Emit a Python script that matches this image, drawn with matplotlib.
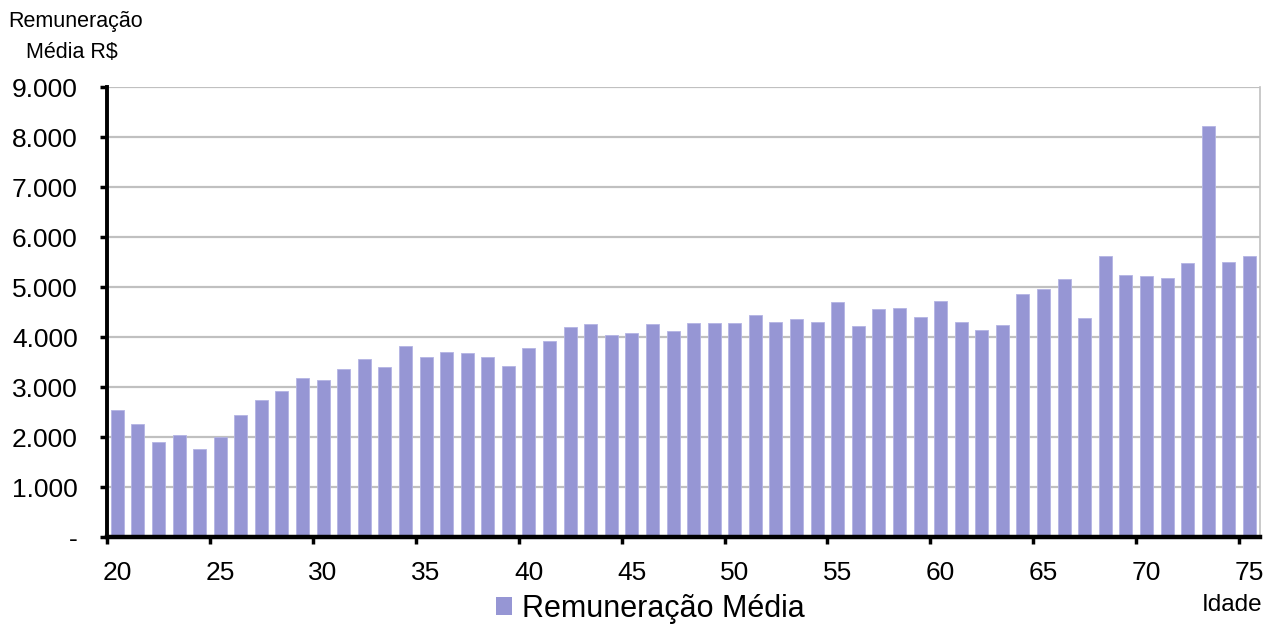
import matplotlib
matplotlib.use("Agg")
import matplotlib.pyplot as plt
from matplotlib.ticker import FixedLocator, FuncFormatter
from matplotlib.patches import Patch

plt.rcParams['font.family'] = ['Liberation Sans', 'DejaVu Sans']

ages = list(range(20, 76))
remuneracao = [
    2540, 2270, 1910, 2050, 1770, 2010, 2450, 2745, 2925, 3180,
    3140, 3365, 3560, 3400, 3820, 3600, 3705, 3680, 3600, 3430,
    3790, 3925, 4200, 4260, 4045, 4080, 4260, 4120, 4285, 4285,
    4285, 4445, 4300, 4370, 4300, 4710, 4235, 4560, 4585, 4413,
    4733, 4307, 4147, 4247, 4873, 4973, 5160, 4393, 5627, 5247,
    5227, 5187, 5487, 8220, 5513, 5620,
]
tick_labels = [str(a) for a in range(20, 76, 5)]
yticks = list(range(0, 9001, 1000))

series_name = "Remuneração Média"
bar_color = "#9696D4"

fig = plt.figure(figsize=(12.75, 6.28), dpi=100)
ax = fig.add_axes([0.0839, 0.1444, 0.988 - 0.0839, 0.861 - 0.1444])

x = list(range(len(ages)))
ax.bar(x, remuneracao, width=0.63, color=bar_color, edgecolor="#B4B4E4",
       linewidth=0.6, zorder=3)

ax.set_xlim(-0.5, len(ages) - 0.5)
ax.set_ylim(0, 9000)

# y axis
ax.set_yticks(yticks)
ax.yaxis.set_major_formatter(FuncFormatter(
    lambda v, p: '-' if v == 0 else f"{int(v):,}".replace(',', '.')))
ax.tick_params(axis='y', direction='out', length=5, width=2.5,
               labelsize=19, pad=16, colors='black')
ax.grid(axis='y', color='#C0C0C0', linewidth=1.6, zorder=0)

# x axis: ticks at category boundaries, labels at centres
label_pos = [ages.index(int(t)) for t in tick_labels]
ax.xaxis.set_major_locator(FixedLocator([p - 0.5 for p in label_pos]))
ax.xaxis.set_minor_locator(FixedLocator(label_pos))
ax.xaxis.set_major_formatter(FuncFormatter(lambda v, p: ''))
ax.xaxis.set_minor_formatter(FuncFormatter(lambda v, p: str(ages[int(round(v))])))
ax.tick_params(axis='x', which='major', direction='out', length=5, width=2.5)
ax.tick_params(axis='x', which='minor', length=0, labelsize=19, pad=17)

ax.spines['top'].set_visible(False)
ax.spines['right'].set_color('#C0C0C0')
ax.spines['right'].set_linewidth(1.2)
ax.spines['left'].set_linewidth(2.8)
ax.spines['bottom'].set_linewidth(3.2)
ax.spines['left'].set_zorder(5)
ax.spines['bottom'].set_zorder(5)

# titles
fig.text(8 / 1275, 1 - 22 / 628, "Remuneração", fontsize=15.5, va='center', ha='left')
fig.text(26 / 1275, 1 - 52 / 628, "Média R$", fontsize=15.5, va='center', ha='left')
fig.text(1262 / 1275, 1 - 605 / 628, "Idade", fontsize=17.5, va='center', ha='right')

handle = Patch(facecolor=bar_color, edgecolor='none')
fig.legend([handle], [series_name], loc='center',
           bbox_to_anchor=(650 / 1275, 1 - 609 / 628), frameon=False,
           fontsize=22, handlelength=0.55, handleheight=0.55, handletextpad=0.3)

fig.savefig("out.png", dpi=100)
